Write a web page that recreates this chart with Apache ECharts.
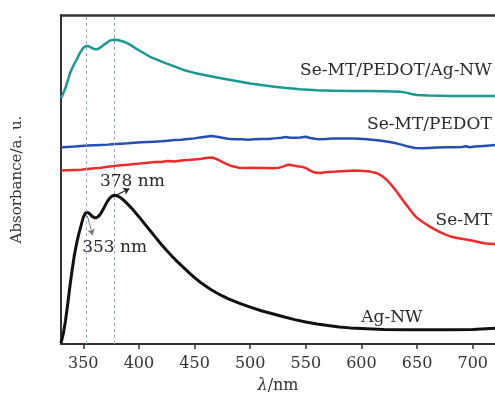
<!DOCTYPE html>
<html><head><meta charset="utf-8">
<script src="https://cdn.jsdelivr.net/npm/echarts@6/dist/echarts.min.js"></script>
<style>html,body{margin:0;padding:0;background:#fff}#c{width:495px;height:399px}</style>
</head><body><div id="c"></div>
<script>
// ---- data ----
const xTicks = [350, 400, 450, 500, 550, 600, 650, 700];
const peakMarks = [353, 378];

const agWl  = [330,332,334,336,338,340,342,344,346,348,350,352,354,356,358,360,362,364,366,368,370,372,374,376,378,380,383,386,390,395,400,405,410,415,420,425,430,435,440,445,450,455,460,465,470,475,480,490,500,510,520,530,540,550,560,570,580,590,600,620,640,660,680,700,720];
const agAbs = [0.3,3,7,12,17.5,22.5,27,30.5,33.5,36,38.5,39.8,40,39.5,38.8,38.4,38.4,38.9,39.8,41,42.3,43.5,44.4,45,45.2,45.1,44.6,43.8,42.5,40.7,38.7,36.6,34.5,32.4,30.3,28.4,26.6,24.9,23.3,21.7,20.2,18.8,17.6,16.5,15.5,14.6,13.8,12.4,11.2,10.1,9.2,8.3,7.4,6.7,6.1,5.6,5.2,4.9,4.7,4.4,4.3,4.3,4.3,4.4,4.8];

const tealWl  = [330,332,334,336,338,340,342,344,346,348,350,352,354,356,358,360,362,364,366,368,370,372,374,376,378,381,384,388,392,396,400,405,410,415,420,425,430,440,450,460,470,480,490,500,510,520,530,545,560,575,590,605,620,635,640,645,650,660,680,700,720];
const tealAbs = [74.7,76.2,77.8,80,82.2,83.8,85.2,86.4,87.8,89,90,90.5,90.6,90.3,89.9,89.6,89.6,89.8,90.3,90.8,91.3,91.8,92.2,92.4,92.5,92.4,92.1,91.7,91.0,90.1,89.3,88.3,87.3,86.6,85.9,85.2,84.6,83.3,82.4,81.7,81,80.4,79.8,79.2,78.7,78.3,77.9,77.4,77.1,77,76.9,76.9,76.8,76.7,76.4,76,75.7,75.5,75.4,75.4,75.4];

const blueWl  = [330,336,342,348,354,360,366,372,378,384,390,396,402,408,414,420,426,432,438,444,450,455,460,465,470,475,480,486,492,498,504,510,516,522,528,532,536,540,545,550,554,558,562,568,575,582,590,598,605,612,618,624,630,636,642,648,654,660,668,676,684,690,694,697,702,710,720];
const blueAbs = [59.8,59.9,60.0,60.2,60.3,60.4,60.5,60.6,60.8,60.9,61.0,61.2,61.3,61.4,61.5,61.6,61.8,62.0,62.1,62.3,62.5,62.8,63.0,63.2,63.0,62.7,62.4,62.2,62.2,62.1,62.2,62.3,62.3,62.5,62.7,62.9,62.7,62.7,62.8,63.0,62.6,62.4,62.2,62.3,62.5,62.5,62.5,62.4,62.2,62.0,61.8,61.5,61.1,60.6,60.0,59.6,59.5,59.6,59.7,59.8,59.8,59.9,60.1,59.8,60.0,60.2,60.5];

const redWl  = [330,336,342,348,354,360,366,372,378,384,390,396,402,408,414,420,426,432,438,444,450,456,462,466,470,474,478,484,490,496,502,508,514,520,526,530,534,538,542,546,550,554,558,562,570,578,586,594,602,608,614,618,622,626,630,634,638,642,646,650,655,660,665,670,675,680,686,690,695,700,705,710,715,720];
const redAbs = [52.7,52.8,52.9,53.0,53.2,53.4,53.6,53.9,54.1,54.3,54.5,54.7,54.9,55.1,55.3,55.3,55.6,55.5,55.8,55.9,56.1,56.3,56.6,56.7,56.2,55.5,54.8,54.0,53.6,53.5,53.6,53.5,53.5,53.4,53.6,54.0,54.5,54.3,54.0,53.9,53.5,52.7,52.1,52.0,52.3,52.4,52.6,52.7,52.6,52.4,51.9,51.2,50.1,48.7,47.0,45.2,43.3,41.6,39.8,38.3,37.1,36.0,35.0,34.1,33.3,32.7,32.2,32.0,31.7,31.4,31.0,30.6,30.5,30.4];

const seriesNames = ['Se-MT/PEDOT/Ag-NW', 'Se-MT/PEDOT', 'Se-MT', 'Ag-NW'];
const peakLabels = ['353 nm', '378 nm'];

// ---- chart ----
const zip = (a, b) => a.map((v, i) => [v, b[i]]);
const FONT = 'DejaVu Serif';
const chart = echarts.init(document.getElementById('c'), null, {renderer: 'canvas'});

function nameLabel(coord, text, pos) {
  return {coord: coord, symbol: 'circle', symbolSize: 1, itemStyle: {color: 'rgba(0,0,0,0)'},
    label: {show: true, formatter: text, position: pos, distance: 0,
      fontFamily: FONT, fontSize: 17, color: '#2a2a2a'}};
}

const lineCommon = {showSymbol: false, smooth: false, z: 3,
  lineStyle: {join: 'round', cap: 'round'}};

chart.setOption({
  animation: false,
  backgroundColor: '#fff',
  grid: {left: 61, right: 0, top: 15, bottom: 55},
  xAxis: [{
    type: 'value', min: 330, max: 720, position: 'bottom',
    splitLine: {show: false},
    axisLine: {show: true, onZero: false, lineStyle: {color: '#333', width: 2}},
    axisTick: {show: true, inside: false, length: 5, customValues: xTicks, lineStyle: {color: '#333', width: 1.5}},
    axisLabel: {customValues: xTicks, margin: 12, fontFamily: FONT, fontSize: 16, color: '#333'},
    name: '{i|λ}/nm', nameLocation: 'middle', nameGap: 34,
    nameTextStyle: {fontFamily: FONT, fontSize: 16, color: '#333', rich: {i: {fontFamily: FONT, fontStyle: 'italic', fontSize: 16, color: '#333'}}}
  }, {
    type: 'value', min: 330, max: 720, position: 'top',
    splitLine: {show: false}, axisTick: {show: false}, axisLabel: {show: false},
    axisLine: {show: true, onZero: false, lineStyle: {color: '#333', width: 2.5}}
  }],
  yAxis: {
    type: 'value', min: 0, max: 100,
    splitLine: {show: false}, axisTick: {show: false}, axisLabel: {show: false},
    axisLine: {show: true, onZero: false, lineStyle: {color: '#333', width: 2}},
    name: 'Absorbance/a. u.', nameLocation: 'middle', nameGap: 36,
    nameTextStyle: {fontFamily: FONT, fontSize: 15, color: '#333'}
  },
  series: [
    Object.assign({}, lineCommon, {
      name: seriesNames[0], type: 'line', data: zip(tealWl, tealAbs),
      lineStyle: {color: '#1b9892', width: 2.5, join: 'round'},
      markPoint: {silent: true, data: [nameLabel([717.5, 83.0], seriesNames[0], 'left')]}
    }),
    Object.assign({}, lineCommon, {
      name: seriesNames[1], type: 'line', data: zip(blueWl, blueAbs),
      lineStyle: {color: '#2450b4', width: 2.5, join: 'round'},
      markPoint: {silent: true, data: [nameLabel([717.5, 66.6], seriesNames[1], 'left')]}
    }),
    Object.assign({}, lineCommon, {
      name: seriesNames[2], type: 'line', data: zip(redWl, redAbs),
      lineStyle: {color: '#ee2a2a', width: 2.5, join: 'round'},
      markPoint: {silent: true, data: [nameLabel([717.5, 37.4], seriesNames[2], 'left')]},
      markLine: {
        silent: true, symbol: ['none', 'none'], label: {show: false},
        lineStyle: {type: [3, 3], color: '#9aa6b4', width: 1},
        data: peakMarks.map(v => ({xAxis: v}))
      }
    }),
    Object.assign({}, lineCommon, {
      name: seriesNames[3], type: 'line', data: zip(agWl, agAbs),
      lineStyle: {color: '#111', width: 3, join: 'round'}, z: 4,
      markPoint: {silent: true, data: [
        nameLabel([627.4, 7.9], seriesNames[3], 'inside'),
        nameLabel([348.6, 29.3], peakLabels[0], 'right'),
        nameLabel([364.5, 49.4], peakLabels[1], 'right')
      ]},
      markLine: {
        silent: true, label: {show: false}, symbol: ['none', 'arrow'], symbolSize: 6,
        data: [
          [{coord: [353.6, 39.0], lineStyle: {type: 'solid', color: '#777', width: 1}, itemStyle: {color: '#222'}}, {coord: [358.4, 33.1]}],
          [{coord: [380.0, 45.3], lineStyle: {type: 'solid', color: '#222', width: 1.3}, itemStyle: {color: '#222'}}, {coord: [391.4, 47.2]}]
        ]
      }
    })
  ]
});
</script>
</body></html>
